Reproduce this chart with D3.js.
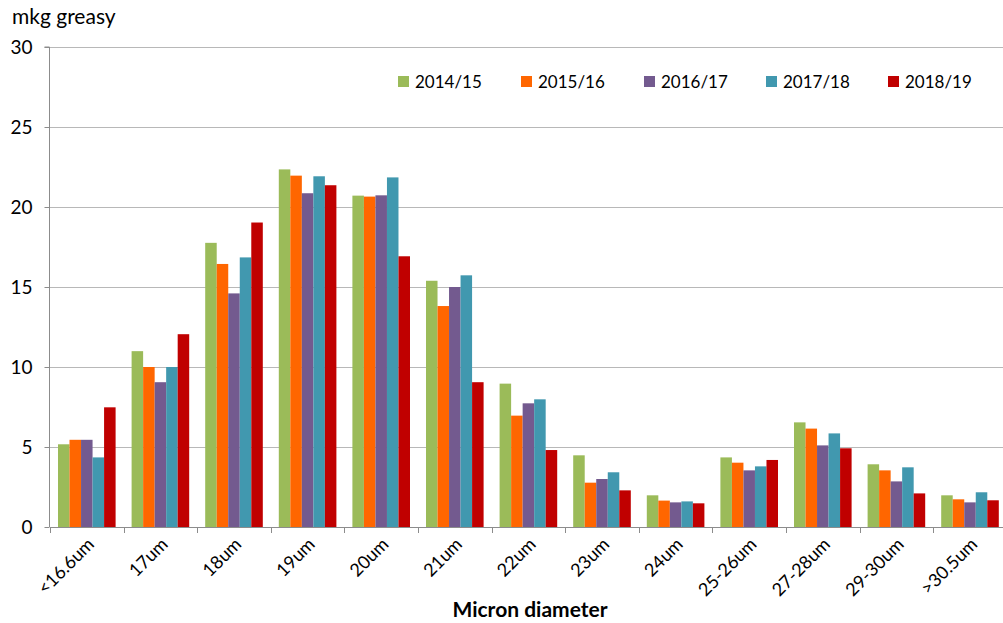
<!DOCTYPE html>
<html><head><meta charset="utf-8">
<script src="https://cdn.jsdelivr.net/npm/d3@7"></script>
<style>body{margin:0;background:#fff}svg{display:block}text{font-family:Lato,"Liberation Sans",sans-serif;fill:#000}</style>
</head><body><svg id="c" width="1003" height="623"></svg>
<script>
const categories = ["<16.6um","17um","18um","19um","20um","21um","22um","23um","24um","25-26um","27-28um","29-30um",">30.5um"];
const series = ["2014/15","2015/16","2016/17","2017/18","2018/19"];
const colors = ["#9BBB59","#FF6600","#735A8F","#4198AF","#C00000"];
const v2014 = [5.17,10.99,17.76,22.35,20.71,15.39,8.96,4.48,1.98,4.35,6.54,3.92,1.98];
const v2015 = [5.45,10.0,16.44,21.96,20.65,13.81,6.96,2.77,1.65,4.02,6.15,3.54,1.73];
const v2016 = [5.45,9.05,14.6,20.86,20.73,15.0,7.73,3.0,1.54,3.54,5.1,2.85,1.54];
const v2017 = [4.35,10.0,16.85,21.92,21.85,15.73,7.98,3.42,1.6,3.79,5.85,3.73,2.17];
const v2018 = [7.48,12.05,19.03,21.36,16.92,9.05,4.81,2.29,1.48,4.19,4.92,2.1,1.67];
const yTicks = [0,5,10,15,20,25,30];
const values = [v2014,v2015,v2016,v2017,v2018];

const svg = d3.select("#c");
const L=50, T=47, B=527, R=50+13*73.6;
const x = d3.scaleBand().domain(categories).range([L,R]).padding(0);
const bw = x.bandwidth();
const x1 = d3.scaleBand().domain(series).range([8, bw-8]).padding(0);
const y = d3.scaleLinear().domain([0,30]).range([B,T]);

// gridlines
svg.append("g").selectAll("line").data(yTicks.filter(t=>t>0)).join("line")
  .attr("x1",L).attr("x2",R).attr("y1",d=>y(d)+0.5).attr("y2",d=>y(d)+0.5)
  .attr("stroke","#B8B8B8").attr("stroke-width",1);

// bars
series.forEach((s,i)=>{
  svg.append("g").selectAll("rect").data(categories).join("rect")
    .attr("x",c=>x(c)+x1(s)).attr("width",x1.bandwidth())
    .attr("y",(c,j)=>y(values[i][j])).attr("height",(c,j)=>B-y(values[i][j]))
    .attr("fill",colors[i]);
});

// y axis
const ya = svg.append("g").attr("transform",`translate(${L-0.5},0)`)
  .call(d3.axisLeft(y).tickValues(yTicks).tickSize(5).tickPadding(12));
ya.select(".domain").attr("stroke","#8C8C8C").attr("d",`M-5,${T}H0V${B}`);
ya.selectAll(".tick line").attr("stroke","#8C8C8C");
ya.selectAll("text").style("font-size","19px").attr("font-family","Lato, sans-serif").attr("fill","#000");

// x axis
const xa = svg.append("g").attr("transform",`translate(0,${B+0.5})`)
  .call(d3.axisBottom(x).tickSize(0).tickFormat(""));
xa.select(".domain").attr("stroke","#8C8C8C").attr("d",`M${L},0H${R}`);
svg.append("g").selectAll("line").data(d3.range(categories.length+1)).join("line")
  .attr("x1",i=>Math.round(L+i*bw)+0.5).attr("x2",i=>Math.round(L+i*bw)+0.5)
  .attr("y1",B).attr("y2",B+6).attr("stroke","#8C8C8C");
svg.append("g").selectAll("text").data(categories).join("text")
  .attr("transform",c=>`translate(${x(c)+bw/2+4},${B+14}) rotate(-45)`)
  .attr("text-anchor","end").attr("dy","0.35em").style("font-size","18px").text(c=>c);

// titles
svg.append("text").attr("x",12).attr("y",24).style("font-size","21px").text("mkg greasy");
svg.append("text").attr("x",530).attr("y",617).attr("text-anchor","middle")
  .style("font-size","21px").style("font-weight","bold").text("Micron diameter");

// legend
const legX = [398,521,644,766,888];
const lg = svg.append("g").selectAll("g").data(series).join("g")
  .attr("transform",(s,i)=>`translate(${legX[i]},82)`);
lg.append("rect").attr("x",0).attr("y",-6).attr("width",11).attr("height",11).attr("fill",(s,i)=>colors[i]);
lg.append("text").attr("x",17).attr("y",0).attr("dy","0.35em").style("font-size","17px").text(s=>s);
</script></body></html>
